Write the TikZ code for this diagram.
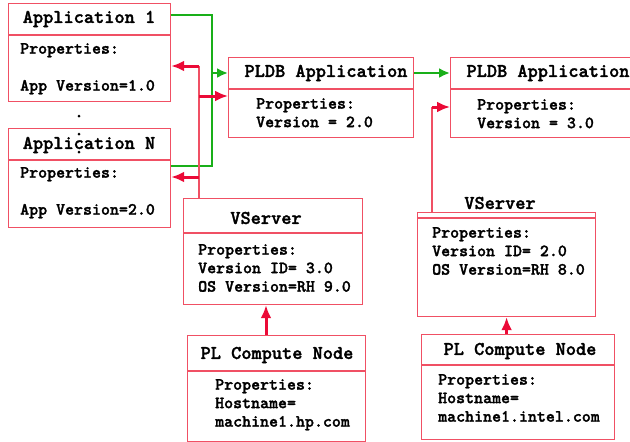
\documentclass[tikz,border=0pt]{standalone}
\usepackage{fontspec}
\newfontfamily\typew{lmmonolt10-bold}[Extension=.otf,FakeBold=1.6]
\usetikzlibrary{arrows.meta,calc,positioning}
\definecolor{boxred}{RGB}{240,80,100}
\definecolor{arrred}{RGB}{235,10,55}
\definecolor{grn}{RGB}{25,175,25}

\begin{document}
\begin{tikzpicture}[x=1pt,y=-1pt,
  box/.style={draw=boxred,line width=1.2pt,inner sep=0pt,anchor=north west},
  ttl/.style={font=\typew\fontsize{19.4}{20}\selectfont,inner sep=0pt},
  txt/.style={font=\typew\fontsize{17.1}{18.5}\selectfont,align=left,anchor=north west,inner sep=0pt},
  sep/.style={boxred,line width=1.2pt},
  rline/.style={boxred,line width=1.5pt},
  rarrow/.style={arrred,line width=3pt,-{Latex[length=13pt,width=11pt]}},
  gline/.style={grn,line width=1.5pt},
  garrow/.style={grn,line width=2.5pt,-{Latex[length=11pt,width=10pt]}}]
  \clip (0,0) rectangle (630,442);

  % application boxes
  \node[box,minimum width=162pt,minimum height=98pt] (app1) at (8,3) {};
  \draw[sep] (app1.west |- 0,35) -- (app1.east |- 0,35);
  \node[ttl] (app1-t) at (89,19) {Application 1};
  \node[txt] (app1-p) at (20,43) {Properties:\\[18.5pt]App Version=1.0};

  \foreach \y in {116,134,152}{
    \fill (79,\y) circle (1.5);
  }

  \node[box,minimum width=162pt,minimum height=99pt] (appN) at (8,128) {};
  \draw[sep] (appN.west |- 0,160) -- (appN.east |- 0,160);
  \node[ttl] (appN-t) at (89,145) {Application N};
  \node[txt] (appN-p) at (20,167) {Properties:\\[18.5pt]App Version=2.0};

  % PLDB applications
  \node[box,minimum width=185pt,minimum height=80pt] (pA) at (228,57) {};
  \draw[sep] (pA.west |- 0,89) -- (pA.east |- 0,89);
  \node[ttl] (pA-t) at (326,73) {PLDB Application};
  \node[txt] (pA-p) at (256,98) {Properties:\\Version = 2.0};

  \node[box,minimum width=185pt,minimum height=80pt] (pB) at (450,57) {};
  \draw[sep] (pB.west |- 0,89) -- (pB.east |- 0,89);
  \node[ttl] (pB-t) at (548,73) {PLDB Application};
  \node[txt] (pB-p) at (477,99) {Properties:\\Version = 3.0};

  % virtual servers
  \node[box,minimum width=179pt,minimum height=106pt] (vs1) at (183,198) {};
  \draw[sep] (vs1.west |- 0,233) -- (vs1.east |- 0,233);
  \node[ttl] (vs1-t) at (266,218) {VServer};
  \node[txt] (vs1-p) at (198,244) {Properties:\\Version ID= 3.0\\OS Version=RH 9.0};

  \node[box,minimum width=178pt,minimum height=104pt] (vs2) at (417,212) {};
  \draw[sep] (vs2.west |- 0,218) -- (vs2.east |- 0,218);
  \node[ttl] (vs2-t) at (500,203) {VServer};
  \node[txt] (vs2-p) at (432,227) {Properties:\\Version ID= 2.0\\OS Version=RH 8.0};

  % compute nodes
  \node[box,minimum width=178pt,minimum height=106pt] (cn1) at (187,335) {};
  \draw[sep] (cn1.west |- 0,371) -- (cn1.east |- 0,371);
  \node[ttl] (cn1-t) at (277,355) {PL Compute Node};
  \node[txt] (cn1-p) at (215,379) {Properties:\\Hostname=\\machine1.hp.com};

  \node[box,minimum width=193pt,minimum height=105pt] (cn2) at (421,334) {};
  \draw[sep] (cn2.west |- 0,365) -- (cn2.east |- 0,365);
  \node[ttl] (cn2-t) at (520,351) {PL Compute Node};
  \node[txt] (cn2-p) at (438,374) {Properties:\\Hostname=\\machine1.intel.com};

  % green links
  \coordinate (gtop) at (212,15);
  \coordinate (gbot) at (212,166);
  \draw[gline] (app1.east |- gtop) -- (gtop) -- (gbot) -- (appN.east |- gbot);
  \draw[garrow] (gtop |- pA-t) -- (pA.west |- pA-t);
  \draw[garrow] (pA.east |- pA-t) -- (pB.west |- pA-t);

  % red links
  \coordinate (rtop) at (199,66);
  \coordinate (rmid) at (199,96);
  \coordinate (rlow) at (199,177);
  \coordinate (rB) at (432,107);
  \draw[rline] (vs1.north -| rtop) -- (rtop);
  \draw[rarrow] (rtop) -- (app1.east |- rtop);
  \draw[rarrow] (rmid) -- (pA.west |- rmid);
  \draw[rarrow] (rlow) -- (appN.east |- rlow);
  \draw[rline] (vs2.north -| rB) -- (rB);
  \draw[rarrow] (rB) -- (pB.west |- rB);
  \draw[rarrow] (cn1.north -| vs1-t) -- (vs1.south -| vs1-t);
  \draw[rarrow] (cn2.north -| vs2.south) -- (vs2.south);
\end{tikzpicture}
\end{document}
